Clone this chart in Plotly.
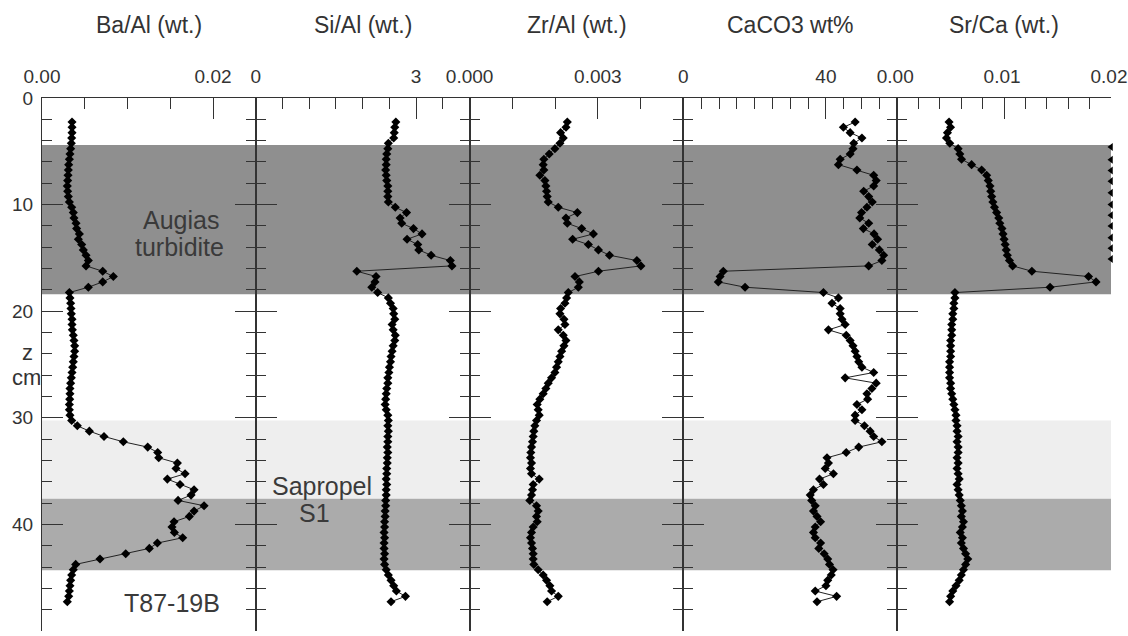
import plotly.graph_objects as go

# ---------------- data ----------------
depth_cm = [2.25, 2.75, 3.25, 3.75, 4.25, 4.75, 5.25, 5.75, 6.25, 6.75,
            7.25, 7.75, 8.25, 8.75, 9.25, 9.75, 10.25, 10.75, 11.25, 11.75,
            12.25, 12.75, 13.25, 13.75, 14.25, 14.75, 15.25, 15.75, 16.25, 16.75,
            17.25, 17.75, 18.25, 18.75, 19.25, 19.75, 20.25, 20.75, 21.25, 21.75,
            22.25, 22.75, 23.25, 23.75, 24.25, 24.75, 25.25, 25.75, 26.25, 26.75,
            27.25, 27.75, 28.25, 28.75, 29.25, 29.75, 30.25, 30.75, 31.25, 31.75,
            32.25, 32.75, 33.25, 33.75, 34.25, 34.75, 35.25, 35.75, 36.25, 36.75,
            37.25, 37.75, 38.25, 38.75, 39.25, 39.75, 40.25, 40.75, 41.25, 41.75,
            42.25, 42.75, 43.25, 43.75, 44.25, 44.75, 45.25, 45.75, 46.25, 46.75,
            47.25]

ba_al = [0.00351, 0.00351, 0.00351, 0.00347, 0.00343, 0.00335, 0.00327, 0.00320, 0.00312, 0.00308,
         0.00304, 0.00300, 0.00296, 0.00300, 0.00308, 0.00320, 0.00347, 0.00366, 0.00374, 0.00398,
         0.00405, 0.00437, 0.00425, 0.00464, 0.00483, 0.00515, 0.00542, 0.00515, 0.00710, 0.00834,
         0.00710, 0.00542, 0.00320, 0.00327, 0.00335, 0.00339, 0.00343, 0.00351, 0.00351, 0.00355,
         0.00366, 0.00374, 0.00382, 0.00382, 0.00374, 0.00366, 0.00359, 0.00351, 0.00343, 0.00335,
         0.00327, 0.00327, 0.00324, 0.00320, 0.00320, 0.00327, 0.00347, 0.00413, 0.00554, 0.00725,
         0.00951, 0.01236, 0.01353, 0.01365, 0.01583, 0.01567, 0.01673, 0.01466, 0.01614, 0.01778,
         0.01743, 0.01591, 0.01895, 0.01778, 0.01723, 0.01544, 0.01520, 0.01548, 0.01645, 0.01349,
         0.01255, 0.00979, 0.00678, 0.00394, 0.00366, 0.00347, 0.00335, 0.00327, 0.00320, 0.00312,
         0.00296]

si_al = [2.62, 2.60, 2.59, 2.58, 2.48, 2.47, 2.45, 2.44, 2.44, 2.43,
         2.44, 2.45, 2.47, 2.47, 2.47, 2.48, 2.61, 2.82, 2.70, 2.73,
         2.95, 3.11, 2.83, 3.03, 3.05, 3.28, 3.64, 3.67, 1.89, 2.25,
         2.23, 2.17, 2.28, 2.48, 2.52, 2.57, 2.58, 2.60, 2.55, 2.57,
         2.61, 2.60, 2.57, 2.55, 2.53, 2.52, 2.50, 2.49, 2.47, 2.47,
         2.45, 2.44, 2.43, 2.42, 2.44, 2.47, 2.48, 2.47, 2.48, 2.47,
         2.47, 2.46, 2.47, 2.46, 2.46, 2.45, 2.45, 2.44, 2.45, 2.44,
         2.44, 2.43, 2.43, 2.42, 2.42, 2.41, 2.41, 2.40, 2.41, 2.40,
         2.40, 2.41, 2.40, 2.41, 2.44, 2.48, 2.53, 2.58, 2.63, 2.80,
         2.53]

zr_al = [0.002285, 0.002254, 0.002128, 0.002191, 0.002113, 0.001995, 0.001862, 0.001737, 0.001721, 0.001737,
         0.001643, 0.001761, 0.001784, 0.001800, 0.001815, 0.001839, 0.002074, 0.002520, 0.002254, 0.002285,
         0.002621, 0.002895, 0.002410, 0.002778, 0.003013, 0.003271, 0.003912, 0.004006, 0.003013, 0.002465,
         0.002566, 0.002543, 0.002308, 0.002269, 0.002230, 0.002128, 0.002113, 0.002207, 0.002230, 0.002074,
         0.002191, 0.002254, 0.002207, 0.002152, 0.002113, 0.002074, 0.002034, 0.001995, 0.001917, 0.001839,
         0.001784, 0.001721, 0.001643, 0.001581, 0.001604, 0.001628, 0.001565, 0.001526, 0.001502, 0.001487,
         0.001471, 0.001448, 0.001432, 0.001424, 0.001448, 0.001424, 0.001448, 0.001628, 0.001487, 0.001471,
         0.001448, 0.001408, 0.001565, 0.001604, 0.001565, 0.001581, 0.001487, 0.001448, 0.001424, 0.001448,
         0.001471, 0.001487, 0.001487, 0.001502, 0.001604, 0.001721, 0.001800, 0.001878, 0.001917, 0.002074,
         0.001815]

caco3 = [48.2, 44.9, 46.8, 50.1, 47.8, 47.6, 46.8, 44.0, 43.5, 48.7,
         53.4, 54.1, 53.4, 50.6, 52.0, 53.0, 51.5, 50.0, 49.5, 52.0,
         50.5, 53.5, 54.5, 53.0, 55.0, 56.2, 55.7, 52.0, 11.2, 10.3,
         9.8, 17.3, 39.3, 43.5, 41.7, 44.0, 44.0, 44.5, 45.4, 40.7,
         45.7, 46.8, 47.6, 48.2, 48.7, 49.2, 50.1, 53.4, 45.4, 54.1,
         52.9, 51.5, 51.7, 48.7, 50.1, 48.2, 48.2, 50.8, 52.4, 53.4,
         55.7, 49.2, 45.7, 40.3, 40.7, 39.8, 42.1, 38.2, 39.3, 36.5,
         35.6, 36.0, 37.0, 36.5, 37.5, 38.5, 37.0, 36.5, 37.0, 38.5,
         38.0, 39.5, 40.5, 41.0, 42.0, 41.5, 40.5, 40.0, 37.0, 43.0,
         37.5]

sr_ca = [0.00485, 0.00499, 0.00470, 0.00461, 0.00492, 0.00570, 0.00586, 0.00602, 0.00696, 0.00790,
         0.00837, 0.00852, 0.00868, 0.00875, 0.00884, 0.00895, 0.00910, 0.00930, 0.00950, 0.00960,
         0.00980, 0.00990, 0.01000, 0.01010, 0.01020, 0.01030, 0.01050, 0.01080, 0.01260, 0.01790,
         0.01860, 0.01430, 0.00540, 0.00540, 0.00530, 0.00530, 0.00520, 0.00520, 0.00510, 0.00510,
         0.00510, 0.00500, 0.00500, 0.00500, 0.00500, 0.00490, 0.00490, 0.00490, 0.00490, 0.00500,
         0.00500, 0.00510, 0.00520, 0.00530, 0.00540, 0.00550, 0.00550, 0.00560, 0.00560, 0.00570,
         0.00560, 0.00570, 0.00570, 0.00560, 0.00570, 0.00560, 0.00570, 0.00580, 0.00560, 0.00570,
         0.00580, 0.00590, 0.00600, 0.00610, 0.00600, 0.00620, 0.00610, 0.00590, 0.00610, 0.00600,
         0.00620, 0.00640, 0.00660, 0.00640, 0.00620, 0.00600, 0.00580, 0.00550, 0.00520, 0.00500,
         0.00490]

turbidite_marks_depth = [4.6, 5.8, 6.8, 7.8, 8.9, 10.0, 11.0, 12.0, 13.1, 14.1, 15.1]
turbidite_marks_value = [0.02] * len(turbidite_marks_depth)

panel_titles = ["Ba/Al (wt.)", "Si/Al (wt.)", "Zr/Al (wt.)", "CaCO3 wt%", "Sr/Ca (wt.)"]
series = [ba_al, si_al, zr_al, caco3, sr_ca]
x_ranges = [[0, 0.025], [0, 4], [0, 0.005], [0, 60], [0, 0.0200001]]
x_tickvals = [[0, 0.02], [0, 3], [0, 0.003], [0, 40], [0, 0.01, 0.02]]
x_ticktext = [["0.00", "0.02"], ["0", "3"], ["0.000", "0.003"], ["0", "40"], ["0.00", "0.01", "0.02"]]
x_minor = [0.005, 0.5, 0.001, 5, 0.002]
x_label_shift = [0, 0, 0, 0, -2]

# bands: (top, bottom, colour)
bands = [(4.4, 18.4, "#8f8f8f"), (30.25, 37.6, "#eeeeee"), (37.6, 44.3, "#ababab")]

# ---------------- layout geometry ----------------
W, H = 1128, 636
ML, MR, MT, MB = 42, 17, 98, 5
PW = W - ML - MR
PH = H - MT - MB
FONT = "Liberation Sans, Arial, sans-serif"
TXT = "#333333"
AX = "#333333"


def px2x(px):
    return (px - ML) / PW


def px2y(py):
    return (H - MB - py) / PH


fig = go.Figure()
n = 5
for i in range(n):
    sfx = "" if i == 0 else str(i + 1)
    fig.add_trace(go.Scatter(
        x=series[i], y=depth_cm, mode="lines+markers",
        line=dict(color="#222222", width=1),
        marker=dict(symbol="diamond", size=7, color="black"),
        xaxis="x" + sfx, yaxis="y" + sfx, showlegend=False, cliponaxis=False))

fig.add_trace(go.Scatter(
    x=turbidite_marks_value, y=turbidite_marks_depth, mode="markers",
    marker=dict(symbol="triangle-left", size=7, color="black"),
    xaxis="x5", yaxis="y5", showlegend=False, cliponaxis=False))

for i in range(n):
    sfx = "" if i == 0 else str(i + 1)
    dom = [i / n, (i + 1) / n]
    fig.layout["xaxis" + sfx] = dict(
        domain=dom, range=x_ranges[i], side="top", anchor="y" + sfx,
        showline=True, linecolor=AX, linewidth=1,
        ticks="inside", ticklen=21, tickwidth=1, tickcolor=AX,
        tickmode="array", tickvals=x_tickvals[i], ticktext=x_ticktext[i],
        minor=dict(tickmode="linear", dtick=x_minor[i], tick0=0, ticks="inside",
                   ticklen=11, tickcolor=AX, tickwidth=1),
        showgrid=False, zeroline=False, fixedrange=True, automargin=False,
        tickfont=dict(family=FONT, size=19, color=TXT),
        ticklabelstandoff=6, ticklabelshift=x_label_shift[i], ticklabeloverflow="allow")
    fig.layout["yaxis" + sfx] = dict(
        range=[50, 0], anchor="x" + sfx,
        showline=True, linecolor=AX, linewidth=1,
        ticks="inside", ticklen=21, tickwidth=1, tickcolor=AX,
        tick0=0, dtick=10,
        minor=dict(dtick=2, tick0=0, ticks="inside", ticklen=10, tickcolor=AX, tickwidth=1),
        mirror="ticks" if i < n - 1 else False,
        showticklabels=(i == 0),
        showgrid=False, zeroline=False, fixedrange=True, automargin=False,
        tickfont=dict(family=FONT, size=19, color=TXT),
        ticklabelstandoff=4)

shapes = []
for top, bot, col in bands:
    shapes.append(dict(type="rect", xref="paper", yref="y", x0=0, x1=1, y0=top, y1=bot,
                       fillcolor=col, line=dict(width=0), layer="below"))

ann = []
for i, t in enumerate(panel_titles):
    cx = ML + PW * (i + 0.5) / n
    ann.append(dict(text=t, xref="paper", yref="paper", x=px2x(cx), y=px2y(25),
                    xanchor="center", yanchor="middle", showarrow=False,
                    font=dict(family=FONT, size=23, color=TXT)))

labels = [("Augias", 181, 220), ("turbidite", 179, 247), ("Sapropel", 322, 486),
          ("S1", 314, 513), ("T87-19B", 172, 603)]
for t, cx, cy in labels:
    ann.append(dict(text=t, xref="paper", yref="paper", x=px2x(cx), y=px2y(cy),
                    xanchor="center", yanchor="middle", showarrow=False,
                    font=dict(family=FONT, size=25, color="#3a3a3a")))

for t, cx, cy in [("z", 27.5, 352), ("cm", 26.7, 377)]:
    ann.append(dict(text=t, xref="paper", yref="paper", x=px2x(cx), y=px2y(cy),
                    xanchor="center", yanchor="middle", showarrow=False,
                    font=dict(family=FONT, size=22, color=TXT)))

fig.update_layout(
    width=W, height=H, margin=dict(l=ML, r=MR, t=MT, b=MB, autoexpand=False),
    paper_bgcolor="white", plot_bgcolor="rgba(0,0,0,0)",
    shapes=shapes, annotations=ann, showlegend=False,
    font=dict(family=FONT, color=TXT))

fig.write_html("out.html")
